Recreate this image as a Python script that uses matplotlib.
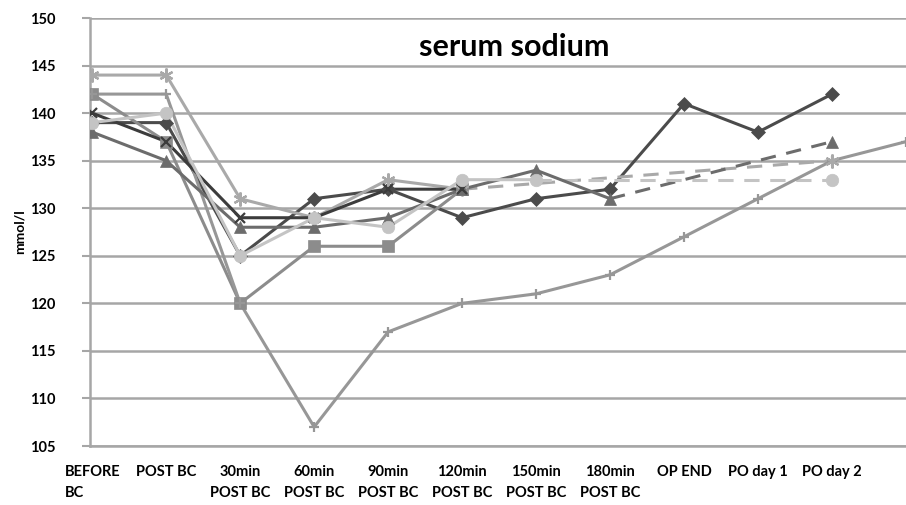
import numpy as np
import matplotlib.pyplot as plt

# categorias del eje x (la ultima columna queda cortada en el original)
categorias = ["BEFORE\nBC", "POST BC", "30min\nPOST BC", "60min\nPOST BC",
              "90min\nPOST BC", "120min\nPOST BC", "150min\nPOST BC",
              "180min\nPOST BC", "OP END", "PO day 1", "PO day 2", ""]

# valores de sodio (mmol/l), None = sin dato
diamante = [139, 139, 125, 131, 132, 129, 131, 132, 141, 138, 142]
cuadrado = [142, 137, 120, 126, 126, 132]
triangulo = [138, 135, 128, 128, 129, 132, 134, 131, None, None, 137]
equis = [140, 137, 129, 129, 132, 132]
asterisco = [144, 144, 131, 129, 133, 132, None, None, None, None, 135]
circulo = [139, 140, 125, 129, 128, 133, 133, None, None, None, 133]
cruz = [142, 142, 120, 107, 117, 120, 121, 123, 127, 131, 135, 137]

series = [
    (diamante, "#4b4b4b", "D", 7),
    (cuadrado, "#8c8c8c", "s", 8),
    (cruz, "#979797", "+", 7),
    (asterisco, "#a9a9a9", (6, 2, 0), 10),
    (triangulo, "#6c6c6c", "^", 8),
    (equis, "#3c3c3c", "x", 7),
    (circulo, "#c4c4c4", "o", 9),
]

plt.rcParams['font.family'] = ['Lato', 'DejaVu Sans']

fig = plt.figure(figsize=(9.06, 5.05), dpi=100)
ax = fig.add_axes([90 / 906, 1 - 446 / 505, 1 - 90 / 906, (446 - 18) / 505])

for k, (valores, color, marca, tam) in enumerate(series):
    y = np.array([np.nan if v is None else v for v in valores], dtype=float)
    x = np.arange(len(y))
    ok = np.where(~np.isnan(y))[0]
    # tramos solidos
    ax.plot(x, y, color=color, lw=2.2, solid_capstyle='round', zorder=3 + k * 0.01)
    # huecos unidos con linea discontinua
    for a, b in zip(ok[:-1], ok[1:]):
        if b - a > 1:
            ax.plot([a, b], [y[a], y[b]], color=color, lw=2.2,
                    dashes=(5, 3.5), zorder=3)
    mew = 1.6 if marca in ("+", "x") or isinstance(marca, tuple) else 0.5
    ax.plot(x[ok], y[ok], ls='none', marker=marca, markersize=tam,
            color=color, markeredgecolor=color, markeredgewidth=mew,
            zorder=4 + k * 0.01)

ax.set_ylim(105, 150)
ax.set_yticks(np.arange(105, 151, 5))
ax.set_xlim(-0.03, 10.96)
ax.set_xticks(np.arange(len(categorias)))
ax.set_xticklabels(categorias, fontsize=10.5, fontweight='bold', linespacing=1.6)
ax.get_xticklabels()[0].set_multialignment('left')
for t in ax.get_yticklabels():
    t.set_fontsize(10.5)
    t.set_fontweight('bold')

ax.grid(axis='y', color="#a6a6a6", lw=1.8, zorder=1)
ax.set_axisbelow(True)
for lado in ['top', 'right']:
    ax.spines[lado].set_visible(False)
ax.spines['left'].set_color("#a6a6a6")
ax.spines['left'].set_linewidth(1.8)
ax.spines['bottom'].set_color("#a6a6a6")
ax.spines['bottom'].set_linewidth(1.8)
ax.tick_params(axis='y', length=6, width=1.5, color="#a6a6a6", pad=19)
ax.tick_params(axis='x', length=0, pad=14)

ax.set_ylabel("mmol/l", fontsize=10, fontweight='bold', labelpad=3)
ax.text(514 / 906, 1 - 47 / 505, "serum sodium", transform=fig.transFigure,
        ha='center', va='center', fontsize=22, fontweight='bold')

fig.savefig("out.png", dpi=100)
